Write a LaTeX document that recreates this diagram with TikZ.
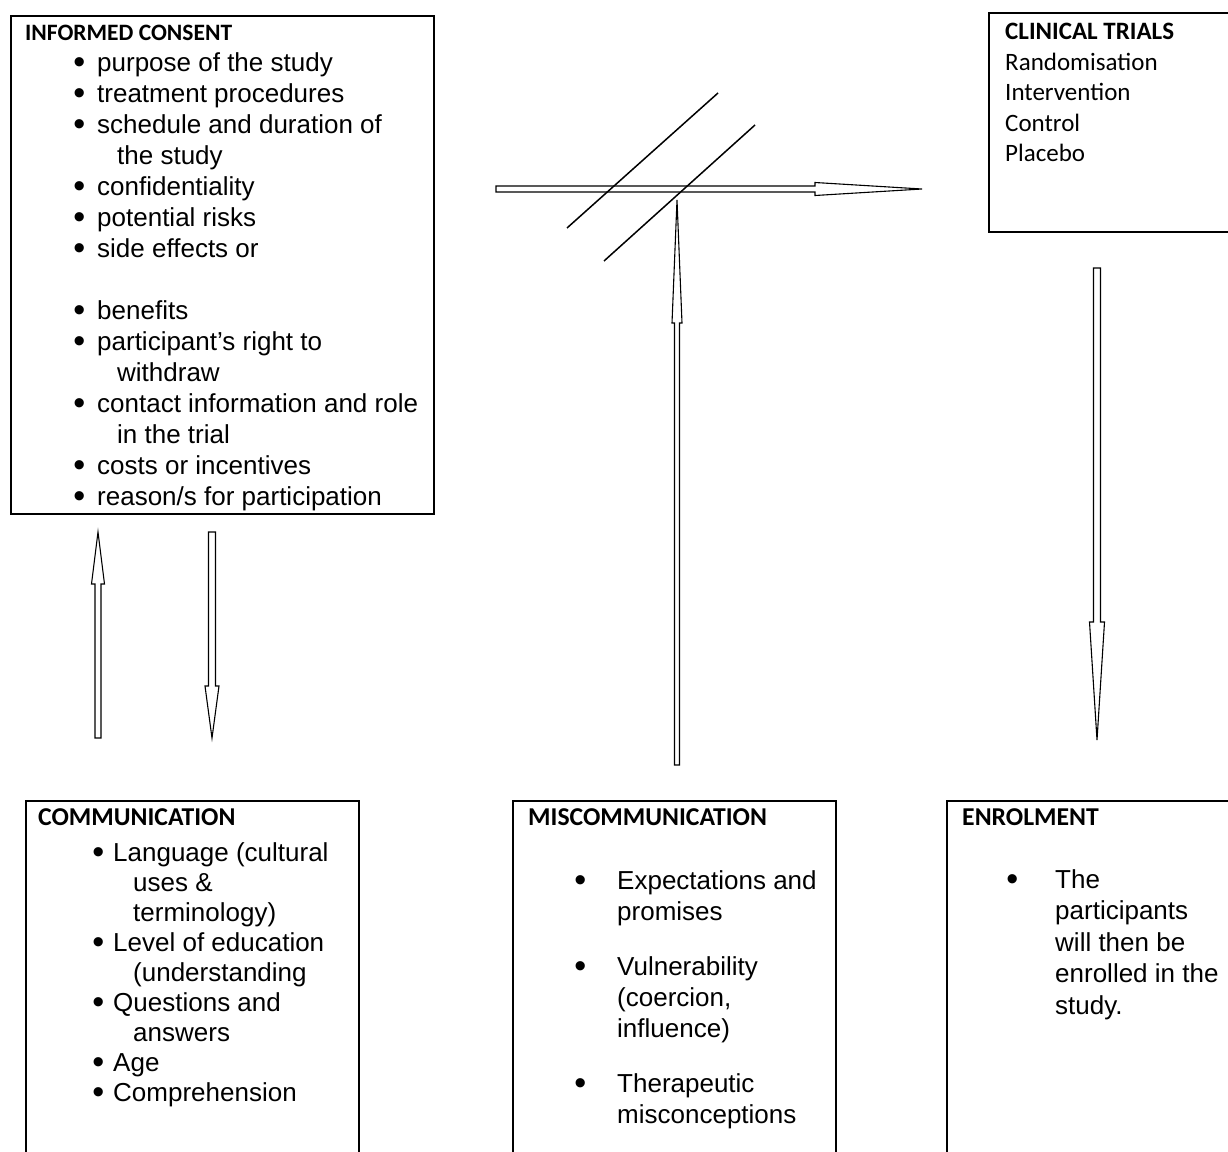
\documentclass[tikz,border=0pt]{standalone}
\usepackage{fontspec}
\setmainfont{Liberation Sans}
\newfontfamily\calibri{Carlito}
\usetikzlibrary{calc}

\tikzset{
  panel/.style={draw, line width=2pt, anchor=north west, inner sep=0pt},
  boxtitle/.style={anchor=base west, inner sep=0pt, font=\fontsize{25.7}{30}\selectfont\calibri\bfseries},
  itemtext/.style={anchor=base west, inner sep=0pt, align=left},
  blockline/.style={draw, line width=1.1pt, line join=miter},
  slash/.style={line width=1.5pt},
}

% bullet hanging left of the item text
\newcommand{\bul}[1]{\llap{\raisebox{-2.5pt}{\fontsize{34}{34}\selectfont\textbullet}\hspace{#1}}}
% outlined block arrow: tail, tip, shaft half width, head length, head half width
\newcommand{\blockarrow}[5]{%
  \path ($(#2)!#4!(#1)$) coordinate (ba-base);
  \draw[blockline] ($(#1)!#3!90:(#2)$) -- ($(ba-base)!#3!-90:(#1)$) -- ($(ba-base)!#5!-90:(#1)$)
    -- (#2) -- ($(ba-base)!#5!90:(#1)$) -- ($(ba-base)!#3!90:(#1)$) -- ($(#1)!#3!-90:(#2)$) -- cycle;
}

\begin{document}
\begin{tikzpicture}[x=1pt,y=-1pt]
  \useasboundingbox (0,0) rectangle (1228,1151);
  \clip (0,0) rectangle (1228,1151);

  % boxes
  \node[panel, minimum width=423, minimum height=498] (consent) at (10,15) {};
  \node[panel, minimum width=260, minimum height=219] (trials) at (988,12) {};
  \node[panel, minimum width=333, minimum height=370] (comm) at (25,800) {};
  \node[panel, minimum width=323, minimum height=370] (miscomm) at (512,800) {};
  \node[panel, minimum width=300, minimum height=370] (enrol) at (946,800) {};

  % texts (lists sit on the baseline of their last line)
  \node[boxtitle, font=\fontsize{23.5}{28}\selectfont\calibri\bfseries] (consent-title) at (25,40) {INFORMED CONSENT};
  \node[itemtext, font=\fontsize{26}{31}\selectfont] (consent-list) at (97,505) {%
    \bul{12pt}purpose of the study\\
    \bul{12pt}treatment procedures\\
    \bul{12pt}schedule and duration of\\
    \hspace*{20pt}the study\\
    \bul{12pt}confidentiality\\
    \bul{12pt}potential risks\\
    \bul{12pt}side effects or\\
    \mbox{}\\
    \bul{12pt}benefits\\
    \bul{12pt}participant’s right to\\
    \hspace*{20pt}withdraw\\
    \bul{12pt}contact information and role\\
    \hspace*{20pt}in the trial\\
    \bul{12pt}costs or incentives\\
    \bul{12pt}reason/s for participation};

  \node[itemtext, font=\fontsize{25}{30.5}\selectfont\calibri] (trials-list) at (1005,161.5) {%
    \textbf{CLINICAL TRIALS}\\Randomisation\\Intervention\\Control\\Placebo};

  \node[boxtitle] (comm-title) at (38,825) {COMMUNICATION};
  \node[itemtext, font=\fontsize{26}{30}\selectfont] (comm-list) at (113,1101) {%
    \bul{9pt}Language (cultural\\
    \hspace*{20pt}uses \&\\
    \hspace*{20pt}terminology)\\
    \bul{9pt}Level of education\\
    \hspace*{20pt}(understanding\\
    \bul{9pt}Questions and\\
    \hspace*{20pt}answers\\
    \bul{9pt}Age\\
    \bul{9pt}Comprehension};

  \node[boxtitle] (miscomm-title) at (528,825) {MISCOMMUNICATION};
  \node[itemtext, font=\fontsize{26}{31}\selectfont] (miscomm-list) at (617,1123) {%
    \bul{31pt}Expectations and\\
    promises\\[24pt]
    \bul{31pt}Vulnerability\\
    (coercion,\\
    influence)\\[24pt]
    \bul{31pt}Therapeutic\\
    misconceptions};

  \node[boxtitle] (enrol-title) at (962,825) {ENROLMENT};
  \node[itemtext, font=\fontsize{26}{31.5}\selectfont] (enrol-list) at (1055,1014) {%
    \bul{37pt}The\\participants\\will then be\\enrolled in the\\study.};

  % arrows
  \coordinate (comm-up-s) at (98,738);
  \coordinate (comm-up-e) at (98,532);
  \coordinate (comm-down-s) at (212,532);
  \coordinate (comm-down-e) at (212,738);
  \coordinate (cross-s) at (496,189);
  \coordinate (cross-e) at (922,189);
  \coordinate (mis-s) at (677,765);
  \coordinate (mis-e) at (677,200);
  \coordinate (enrol-s) at (1097,268);
  \coordinate (enrol-e) at (1097,740);

  \blockarrow{comm-up-s}{comm-up-e}{3pt}{52pt}{6.5pt}
  \blockarrow{comm-down-s}{comm-down-e}{3.5pt}{52pt}{7pt}
  \blockarrow{cross-s}{cross-e}{3pt}{107pt}{6.5pt}
  \blockarrow{mis-s}{mis-e}{2.5pt}{123pt}{5pt}
  \blockarrow{enrol-s}{enrol-e}{3.5pt}{118pt}{7.5pt}

  \draw[slash] (567,228) -- (718,93);
  \draw[slash] (604,261) -- (755,125);
\end{tikzpicture}
\end{document}
